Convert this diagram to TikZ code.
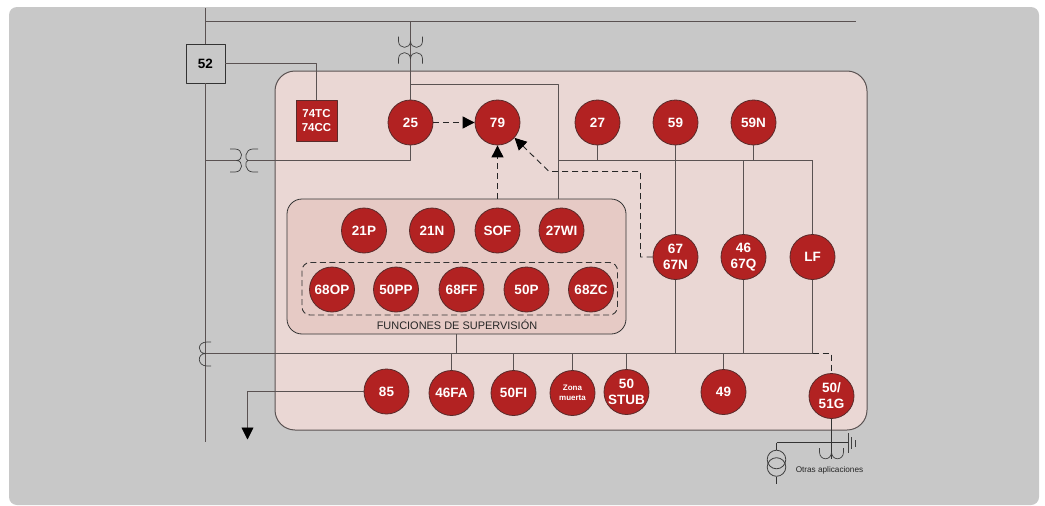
\documentclass[tikz,border=0pt]{standalone}
\usepackage{fontspec}
\setmainfont{Liberation Sans}
\usetikzlibrary{arrows.meta}
\definecolor{panelgray}{HTML}{C8C8C8}
\definecolor{relaybg}{HTML}{EAD7D4}
\definecolor{supbg}{HTML}{E6CAC5}
\definecolor{relayred}{HTML}{B22222}
\definecolor{relayline}{HTML}{5A2A2A}
\definecolor{wirecol}{HTML}{5A5252}
\begin{document}
\begin{tikzpicture}[x=1pt,y=-1pt,line cap=butt,line join=round]
  \tikzset{
    relay/.style={circle,draw=relayline,line width=0.8pt,fill=relayred,text=white,minimum size=45pt,inner sep=0pt,align=center,font=\fontsize{13.5}{15.7}\selectfont\bfseries},
    wire/.style={draw=wirecol,line width=0.9pt},
    coil/.style={draw=black!75,line width=0.7pt},
    sigline/.style={draw=black!85,line width=0.9pt,dash pattern=on 6pt off 4pt},
    sigarrow/.style={sigline,-{Triangle[length=12pt,width=12pt,color=black]}},
  }
  \useasboundingbox[fill=white] (0,0) rectangle (1045,506);

  % ==================== fondos ====================
  \fill[panelgray,rounded corners=8pt] (9,7) rectangle (1039,505);
  \draw[draw=wirecol,line width=1pt,fill=relaybg,rounded corners=20pt] (275,71) rectangle (867,430);
  \node[draw=black!80,line width=0.8pt,fill=supbg,rounded corners=15pt,minimum width=339pt,minimum height=135pt,inner sep=0pt] (panel) at (456.5,266.5) {};
  \draw[black!80,line width=0.9pt,dash pattern=on 6pt off 3.5pt,rounded corners=8pt] (302,262.5) rectangle (617.5,315);
  \node[font=\fontsize{10.95}{12}\selectfont,text=black!85,inner sep=0pt] (suptitle) at (457,324.5) {FUNCIONES DE SUPERVISIÓN};

  % ==================== reles ====================
  \node[draw=black!80,fill=panelgray,line width=0.8pt,minimum size=39pt,inner sep=0pt,font=\fontsize{13.5}{15}\selectfont\bfseries] (r52) at (205.5,63.5) {52};
  \node[draw=relayline,line width=0.8pt,fill=relayred,text=white,minimum size=41pt,inner sep=0pt,align=center,font=\fontsize{11.5}{14}\selectfont\bfseries] (r74) at (316.5,120.5) {74TC\\74CC};

  \node[relay] (r25) at (410.5,122.5) {25};
  \node[relay] (r79) at (497.5,122.5) {79};
  \node[relay] (r27) at (597.5,122.5) {27};
  \node[relay] (r59) at (675.5,122.5) {59};
  \node[relay] (r59N) at (753.5,122.5) {59N};

  \node[relay] (r21P) at (364,230.5) {21P};
  \node[relay] (r21N) at (432,230.5) {21N};
  \node[relay] (rSOF) at (497.5,230.5) {SOF};
  \node[relay] (r27WI) at (561.5,230.5) {27WI};

  \node[relay] (r68OP) at (332,289.5) {68OP};
  \node[relay] (r50PP) at (396,289.5) {50PP};
  \node[relay] (r68FF) at (461.5,289.5) {68FF};
  \node[relay] (r50P) at (526.5,289.5) {50P};
  \node[relay] (r68ZC) at (591,289.5) {68ZC};

  \node[relay] (r67) at (675.5,257) {67\\67N};
  \node[relay] (r46) at (743.5,257) {46\\67Q};
  \node[relay] (rLF) at (812.5,257) {LF};

  \node[relay] (r85) at (386.5,391.5) {85};
  \node[relay] (r46FA) at (451.5,393) {46FA};
  \node[relay] (r50FI) at (513.5,393) {50FI};
  \node[relay,font=\fontsize{8}{10.5}\selectfont\bfseries] (rZona) at (572.5,393) {Zona\\muerta};
  \node[relay] (rSTUB) at (626.5,392) {50\\STUB};
  \node[relay] (r49) at (723.5,392) {49};
  \node[relay] (r51G) at (831.5,396) {50/\\51G};

  % ==================== barras ====================
  \coordinate (busTop) at (205.5,8);
  \coordinate (busEnd) at (205.5,441.5);
  \coordinate (barL) at (205.5,21.5);
  \coordinate (barR) at (856,21.5);
  \coordinate (barTap) at (410.5,21.5);
  \draw[wire] (busTop) -- (r52.north);
  \draw[wire] (r52.south) -- (busEnd);
  \draw[wire] (barL) -- (barR);
  \draw[wire] (barTap) -- (r25.north);
  \draw[wire] (r52.east) -| (r74.north);

  % transformador de tension superior
  \draw[coil] (398.5,36.5) -- (398.5,41) .. controls (398.5,49.5) and (410.5,49.5) .. (410.5,41);
  \draw[coil] (410.5,41) .. controls (410.5,49.5) and (422.5,49.5) .. (422.5,41) -- (422.5,36.5);
  \draw[coil] (398.5,63.5) -- (398.5,59) .. controls (398.5,50.5) and (410.5,50.5) .. (410.5,59);
  \draw[coil] (410.5,59) .. controls (410.5,50.5) and (422.5,50.5) .. (422.5,59) -- (422.5,63.5);

  % transformador de tension lateral
  \coordinate (ctH) at (205.5,160.5);
  \coordinate (ctA) at (237,160.5);
  \coordinate (ctB) at (248,160.5);
  \draw[wire] (ctH) -- (ctA);
  \draw[wire] (ctB) -- (r25.south |- ctB) -- (r25.south);
  \draw[coil] (230,149) -- (235,149) .. controls (243.5,149) and (243.5,160.5) .. (236.5,160.5) .. controls (243.5,160.5) and (243.5,172) .. (235,172) -- (230,172);
  \draw[coil] (258,149) -- (253,149) .. controls (244.5,149) and (244.5,160.5) .. (248,160.5) .. controls (244.5,160.5) and (244.5,172) .. (253,172) -- (258,172);

  % ==================== tensiones ====================
  \coordinate (vTap) at (410.5,84.5);
  \coordinate (vBus) at (558.5,160.5);
  \coordinate (vCorner) at (558.5,84.5);
  \coordinate (vEnd) at (558.5,199);
  \coordinate (vRight) at (812.5,160.5);
  \draw[wire] (vTap) -- (vCorner) -- (vEnd);
  \draw[wire] (vBus) -- (vRight);
  \draw[wire] (vRight) -- (rLF.north);
  \draw[wire] (r27.south) -- (r27.south |- vBus);
  \draw[wire] (r59.south) -- (r67.north);
  \draw[wire] (r59N.south) -- (r59N.south |- vBus);
  \draw[wire] (r46.north) -- (r46.north |- vBus);

  % ==================== corrientes ====================
  \coordinate (iL) at (205.5,353.5);
  \coordinate (iR) at (812.5,353.5);
  \coordinate (iCorner) at (831.5,353.5);
  \draw[wire] (iL) -- (iR);
  \draw[coil] (211,342) -- (207,342) .. controls (197,342) and (197,353.5) .. (205.5,353.5) .. controls (197,353.5) and (197,366) .. (207,366) -- (211,366);
  \draw[wire] (panel.south) -- (panel.south |- iL);
  \draw[wire] (r67.south) -- (r67.south |- iL);
  \draw[wire] (r46.south) -- (r46.south |- iL);
  \draw[wire] (rLF.south) -- (iR);
  \draw[wire] (r46FA.north) -- (r46FA.north |- iL);
  \draw[wire] (r50FI.north) -- (r50FI.north |- iL);
  \draw[wire] (rZona.north) -- (rZona.north |- iL);
  \draw[wire] (rSTUB.north) -- (rSTUB.north |- iL);
  \draw[wire] (r49.north) -- (r49.north |- iL);
  \draw[sigline] (iR) -- (iCorner) -- (r51G.north);

  % disparo
  \coordinate (tripDown) at (247.5,439.5);
  \draw[wire,-{Triangle[length=12pt,width=12pt,color=black]}] (r85.west) -| (tripDown);

  % ==================== senales ====================
  \coordinate (sigA) at (640.5,257);
  \coordinate (sigB) at (640.5,171.5);
  \coordinate (sigC) at (549,171.5);
  \draw[sigarrow] (r25.east) -- (r79.west);
  \draw[sigarrow] (panel.north -| r79.south) -- (r79.south);
  \draw[sigarrow] (r67.west) -- (sigA) -- (sigB) -- (sigC) -- (r79.-42);

  % ==================== otras aplicaciones ====================
  \coordinate (auxEnd) at (831.5,459);
  \coordinate (auxL) at (776.5,442.5);
  \coordinate (auxR) at (848,442.5);
  \draw[wire,black!80] (r51G.south) -- (auxEnd);
  \draw[coil] (819.5,448) -- (819.5,452) .. controls (819.5,461) and (831.5,461) .. (831.5,452);
  \draw[coil] (831.5,452) .. controls (831.5,461) and (843.5,461) .. (843.5,452) -- (843.5,448);
  \draw[wire,black!80] (auxL) -- (auxR);
  \draw[coil] (848.5,433) -- (848.5,453);
  \draw[coil] (851.5,437) -- (851.5,449);
  \draw[coil] (855,440) -- (855,447);
  \node[circle,draw=black!75,line width=0.8pt,minimum size=18.6pt,inner sep=0pt] (tvA) at (776.5,459.5) {};
  \node[circle,draw=black!75,line width=0.8pt,minimum size=18.6pt,inner sep=0pt] (tvB) at (776.5,467) {};
  \coordinate (tvEnd) at (776.5,484);
  \draw[wire,black!80] (auxL) -- (tvA.north);
  \draw[wire,black!80] (tvB.south) -- (tvEnd);
  \node[font=\fontsize{8.2}{9}\selectfont,text=black!85,inner sep=0pt] (otras) at (829.5,470.5) {Otras aplicaciones};
\end{tikzpicture}
\end{document}
